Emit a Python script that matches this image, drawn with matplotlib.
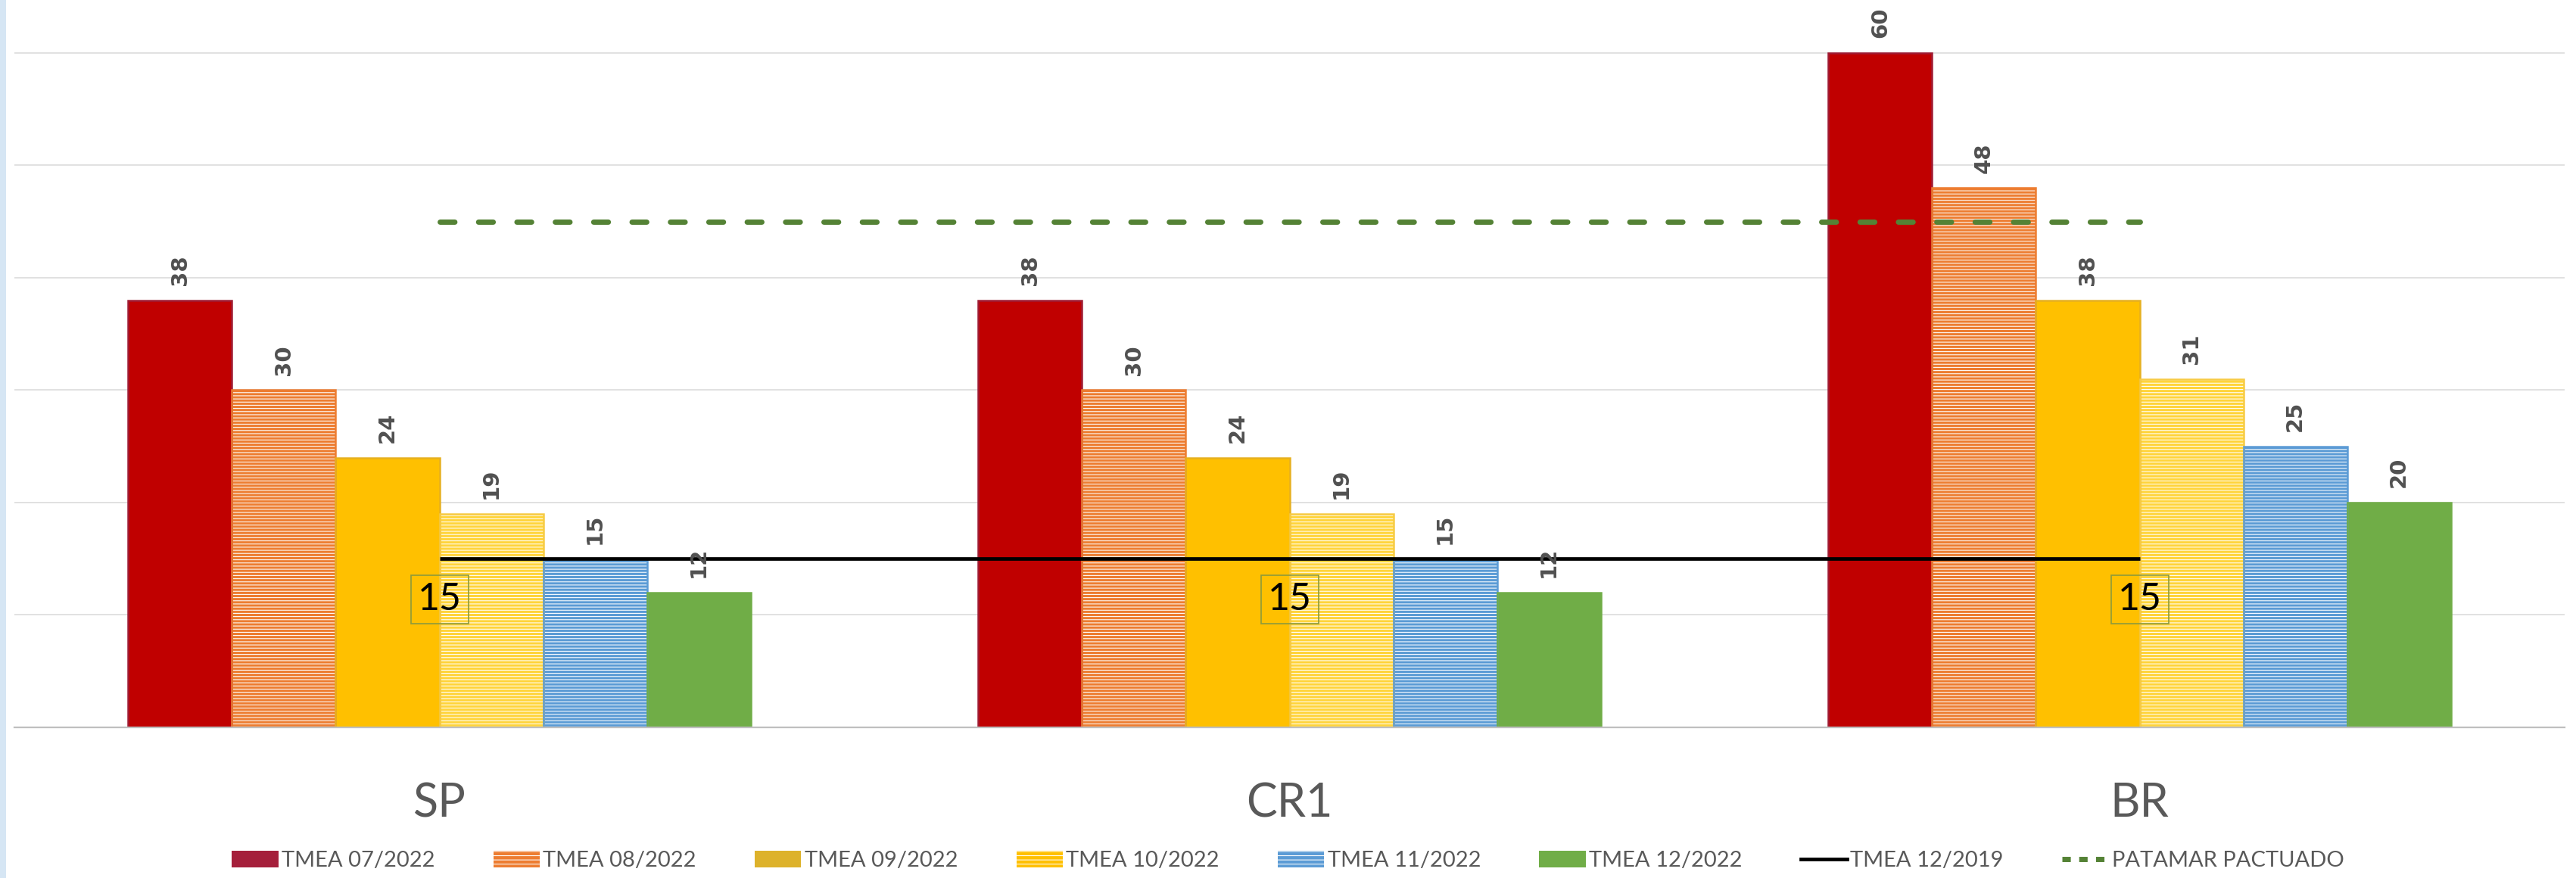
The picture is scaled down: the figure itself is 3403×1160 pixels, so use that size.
import matplotlib
matplotlib.use('Agg')
import matplotlib.pyplot as plt
from matplotlib.patches import Patch, Rectangle
from matplotlib.lines import Line2D
import numpy as np

# data
categories = ['SP', 'CR1', 'BR']
series_names = ['TMEA 07/2022', 'TMEA 08/2022', 'TMEA 09/2022',
                'TMEA 10/2022', 'TMEA 11/2022', 'TMEA 12/2022']
tmea_07_2022 = [38, 38, 60]
tmea_08_2022 = [30, 30, 48]
tmea_09_2022 = [24, 24, 38]
tmea_10_2022 = [19, 19, 31]
tmea_11_2022 = [15, 15, 25]
tmea_12_2022 = [12, 12, 20]
tmea_12_2019 = [15, 15, 15]
patamar_pactuado = [45, 45, 45]

series_values = [tmea_07_2022, tmea_08_2022, tmea_09_2022,
                 tmea_10_2022, tmea_11_2022, tmea_12_2022]

# styles
face_colors = ['#C00000', '#ED7D31', '#FFC000', '#FFD43B', '#5B9BD5', '#70AD47']
edge_colors = ['#A01C34', '#ED7D31', '#E6B020', '#F7CB45', '#5B9BD5', '#70AD47']
legend_colors = ['#A51F3B', '#ED7D31', '#DDB22B', '#FFC000', '#5B9BD5', '#70AD47']
hatched = [False, True, False, True, True, False]

plt.rcParams['hatch.linewidth'] = 0.75
text_grey = '#595959'

fig = plt.figure(figsize=(34.03, 11.6), dpi=100)
fig.patches.append(Rectangle((0, 0), 8 / 3403, 1, transform=fig.transFigure,
                             facecolor='#D6E6F4', edgecolor='none', zorder=0))
ax = fig.add_axes([19 / 3403, 199 / 1160, 3369 / 3403, 961 / 1160])

x = np.arange(len(categories))
width = 0.122
for i, vals in enumerate(series_values):
    pos = x + (i - 2.5) * width
    ax.bar(pos, vals, width, color=face_colors[i], edgecolor='none', linewidth=0, zorder=2)
    if hatched[i]:
        ax.bar(pos, vals, width, facecolor='none', edgecolor='white', hatch='----',
               linewidth=0, zorder=2.1)
    ax.bar(pos, vals, width, facecolor='none', edgecolor=edge_colors[i],
           linewidth=1.8, zorder=2.2)
    for px, v in zip(pos, vals):
        ax.annotate(str(v), (px, v), xytext=(0, 14), textcoords='offset points',
                    ha='center', va='bottom', rotation=90, fontsize=21,
                    fontweight='bold', color='#505050', family='DejaVu Sans', zorder=5)

# reference lines
ax.plot(x, tmea_12_2019, color='black', linewidth=3.4, zorder=4, solid_capstyle='butt')
ax.plot(x, patamar_pactuado, color='#548235', linewidth=5, zorder=4,
        dashes=(2.8, 4.5), dash_capstyle='round')
for px, v in zip(x, tmea_12_2019):
    ax.annotate(str(v), (px, v), xytext=(0, -39), textcoords='offset points',
                ha='center', va='center', fontsize=36, family='Lato', color='black',
                bbox=dict(boxstyle='square,pad=0.18', facecolor='none',
                          edgecolor='#8C9A3C', linewidth=1.2), zorder=6)

ax.set_xlim(-0.5, 2.5)
ax.set_ylim(0, 64.7)
ax.set_yticks(np.arange(10, 61, 10))
ax.set_yticklabels([])
ax.tick_params(axis='y', length=0)
ax.grid(axis='y', color='#D9D9D9', linewidth=1.1, zorder=0)
ax.set_axisbelow(True)
for side in ['top', 'right', 'left']:
    ax.spines[side].set_visible(False)
ax.spines['bottom'].set_color('#BFBFBF')
ax.spines['bottom'].set_linewidth(1.6)
ax.set_xticks(x)
ax.set_xticklabels(categories, fontsize=44, family='Lato', color=text_grey)
ax.tick_params(axis='x', length=0, pad=52)

handles = []
for i in range(6):
    if hatched[i]:
        handles.append(Patch(facecolor=legend_colors[i], edgecolor='white',
                             hatch='---', linewidth=0))
    else:
        handles.append(Patch(facecolor=legend_colors[i], edgecolor='none'))
handles.append(Line2D([], [], color='black', linewidth=3.4))
handles.append(Line2D([], [], color='#548235', linewidth=5, dashes=(1.6, 1.6)))
labels = series_names + ['TMEA 12/2019', 'PATAMAR PACTUADO']
leg = fig.legend(handles, labels, loc='center', bbox_to_anchor=(0.5, 23 / 1160),
                 ncol=8, frameon=False, prop={'family': 'Lato', 'size': 21},
                 handlelength=2.1, handleheight=0.75, handletextpad=0.15,
                 columnspacing=2.65, labelcolor=text_grey)

fig.savefig('out.png', dpi=100, facecolor='white')
